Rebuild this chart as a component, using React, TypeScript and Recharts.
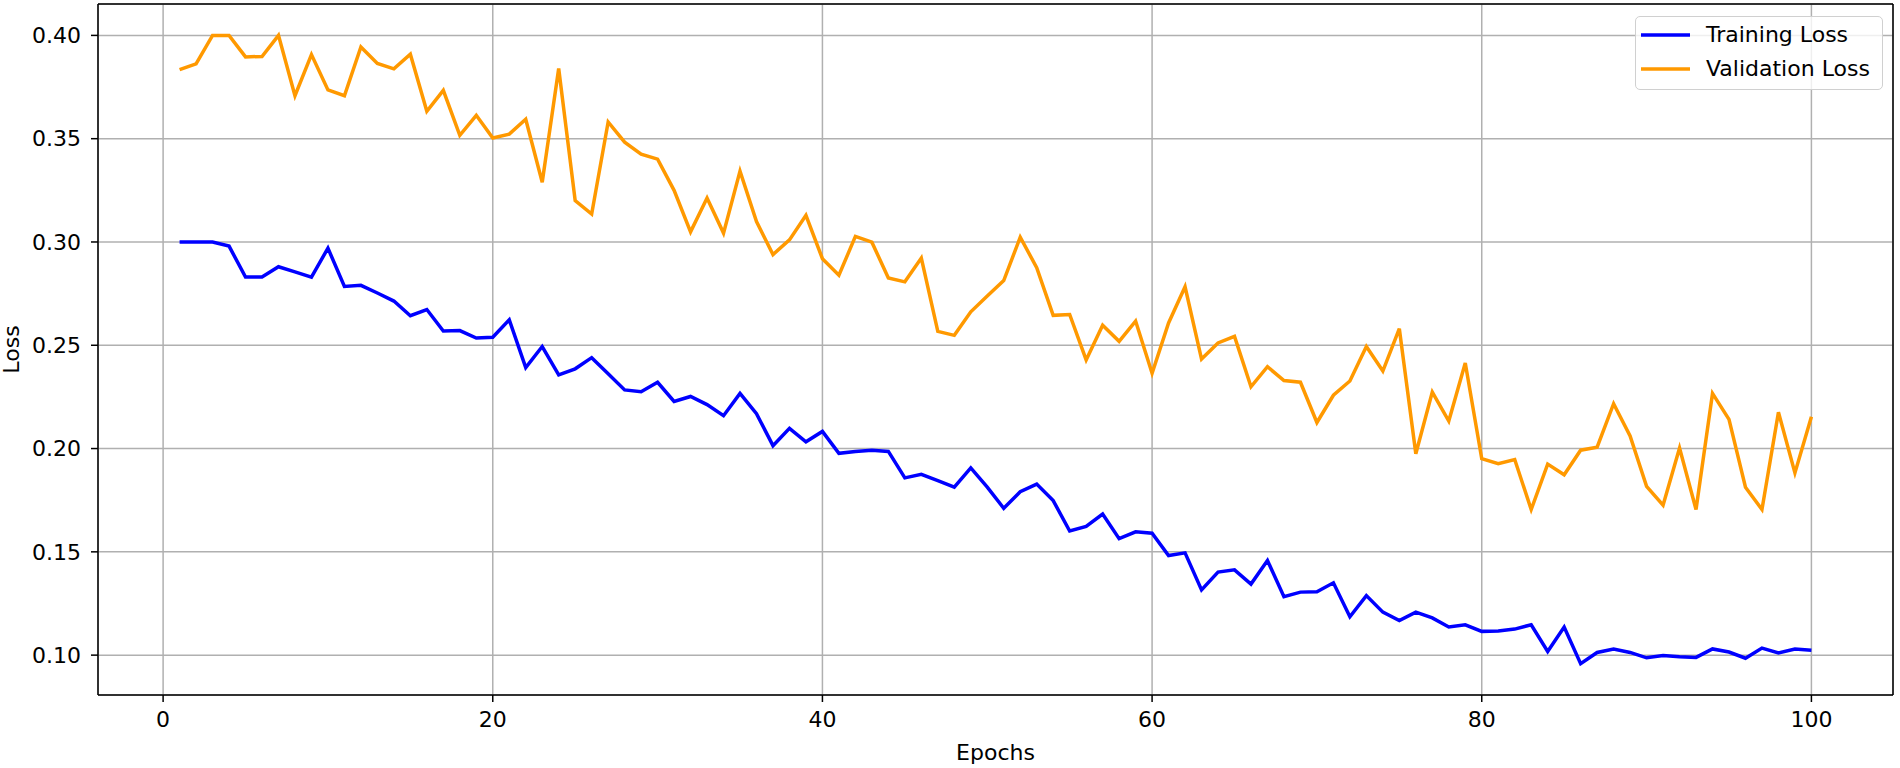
import React from "react";
import {
  LineChart,
  Line,
  XAxis,
  YAxis,
  CartesianGrid,
  Legend,
} from "recharts";

const trainingLoss = [
  0.3, 0.3, 0.3, 0.298, 0.283, 0.283, 0.288, 0.2855, 0.283, 0.297,
  0.2785, 0.279, 0.2753, 0.2714, 0.2643, 0.2673, 0.2569, 0.2571, 0.2535, 0.2539,
  0.2623, 0.2392, 0.2494, 0.2357, 0.2386, 0.244, 0.2362, 0.2284, 0.2275, 0.2321,
  0.2228, 0.2252, 0.2213, 0.2159, 0.2267, 0.2169, 0.2014, 0.2098, 0.2033, 0.2083,
  0.1977, 0.1986, 0.1992, 0.1986, 0.1858, 0.1875, 0.1845, 0.1813, 0.1906, 0.1813,
  0.1711, 0.1791, 0.1828, 0.1748, 0.1601, 0.1623, 0.1683, 0.1564, 0.1597, 0.159,
  0.1482, 0.1495, 0.1316, 0.1402, 0.1413, 0.1344, 0.1458, 0.1283, 0.1305, 0.1307,
  0.135, 0.1186, 0.1288, 0.1208, 0.1167, 0.1208, 0.118, 0.1136, 0.1147, 0.1115,
  0.1117, 0.1126, 0.1147, 0.1018, 0.1136, 0.0959, 0.1013, 0.103, 0.1013, 0.0987,
  0.0998, 0.0992, 0.0989, 0.103, 0.1015, 0.0985, 0.1034, 0.1011, 0.103, 0.1024,
];

const validationLoss = [
  0.3834, 0.3862, 0.4, 0.4, 0.3896, 0.3898, 0.4, 0.3708, 0.3907, 0.3736,
  0.3708, 0.3944, 0.3864, 0.3838, 0.3909, 0.3633, 0.3734, 0.3516, 0.3613, 0.3503,
  0.3522, 0.3594, 0.3289, 0.384, 0.32, 0.3135, 0.3581, 0.3483, 0.3425, 0.3401,
  0.325, 0.3049, 0.3213, 0.3043, 0.3343, 0.3099, 0.2939, 0.301, 0.3129, 0.2919,
  0.2839, 0.3027, 0.2999, 0.2826, 0.2807, 0.2922, 0.2567, 0.2548, 0.2662, 0.2738,
  0.2813, 0.3023, 0.2876, 0.2645, 0.2649, 0.2429, 0.2597, 0.2519, 0.2617, 0.2364,
  0.2608, 0.2783, 0.2433, 0.2511, 0.2543, 0.2299, 0.2396, 0.2329, 0.2321, 0.2126,
  0.2258, 0.2327, 0.2494, 0.2375, 0.258, 0.1975, 0.2273, 0.2133, 0.2414, 0.1951,
  0.1927, 0.1947, 0.1705, 0.1925, 0.1873, 0.1992, 0.2007, 0.2217, 0.2061, 0.1817,
  0.1726, 0.2003, 0.1705, 0.2267, 0.2141, 0.1813, 0.1705, 0.2176, 0.1882, 0.2154,
];

const xTicks = [0, 20, 40, 60, 80, 100];
const yTicks = [0.1, 0.15, 0.2, 0.25, 0.3, 0.35, 0.4];

const xDomain = [-3.95, 104.95];
const yDomain = [0.0807, 0.4152];

const FONT = "'DejaVu Sans', sans-serif";
const FONT_SIZE = 22;

const data = trainingLoss.map((t, i) => ({
  epoch: i + 1,
  train: t,
  val: validationLoss[i],
}));

const renderLegend = (props: any) => {
  const { payload } = props;
  return (
    <div
      style={{
        boxSizing: "border-box",
        width: 248,
        height: 74,
        background: "rgba(255,255,255,0.8)",
        border: "1px solid #d0d0d0",
        borderRadius: 5,
        padding: "1px 0 0 5px",
        fontFamily: FONT,
        fontSize: FONT_SIZE,
        color: "#000",
      }}
    >
      {(payload || []).map((entry: any) => (
        <div
          key={entry.value}
          style={{ display: "flex", alignItems: "center", height: 34 }}
        >
          <svg width={49} height={6}>
            <line x1={0} y1={3} x2={49} y2={3} stroke={entry.color} strokeWidth={3.5} />
          </svg>
          <span style={{ marginLeft: 16, lineHeight: "34px", whiteSpace: "nowrap" }}>
            {entry.value}
          </span>
        </div>
      ))}
    </div>
  );
};

const renderYLabel = (props: any) => {
  const vb = props.viewBox || { x: 0, y: 4, width: 98, height: 691 };
  const cx = vb.x + 11;
  const cy = vb.y + vb.height / 2;
  return (
    <text
      x={cx}
      y={cy}
      transform={`rotate(-90 ${cx} ${cy})`}
      textAnchor="middle"
      dominantBaseline="central"
      fill="#000"
      fontSize={FONT_SIZE}
      fontFamily={FONT}
    >
      Loss
    </text>
  );
};

const tickStyle = { fill: "#000", fontSize: FONT_SIZE, fontFamily: FONT };

export default function App() {
  return (
    <div style={{ position: "absolute", left: 0, top: 0, background: "#fff" }}>
      <LineChart
        width={1900}
        height={768}
        data={data}
        margin={{ top: 3, right: 6, left: 0, bottom: 3 }}
      >
        <CartesianGrid stroke="#b0b0b0" strokeWidth={1.5} />
        <XAxis
          dataKey="epoch"
          type="number"
          domain={xDomain}
          allowDataOverflow
          ticks={xTicks}
          height={70}
          tick={tickStyle}
          tickSize={7}
          tickMargin={9}
          axisLine={{ stroke: "#000", strokeWidth: 1.5 }}
          tickLine={{ stroke: "#000", strokeWidth: 1.5 }}
          label={{
            value: "Epochs",
            position: "insideBottom",
            offset: 5,
            fill: "#000",
            fontSize: FONT_SIZE,
            fontFamily: FONT,
          }}
        />
        <XAxis
          xAxisId="top"
          orientation="top"
          dataKey="epoch"
          type="number"
          domain={xDomain}
          allowDataOverflow
          height={1}
          tick={false}
          tickLine={false}
          axisLine={{ stroke: "#000", strokeWidth: 1.5 }}
        />
        <YAxis
          type="number"
          domain={yDomain}
          allowDataOverflow
          ticks={yTicks}
          width={98}
          tick={tickStyle}
          tickSize={7}
          tickMargin={10}
          tickFormatter={(v: number) => v.toFixed(2)}
          axisLine={{ stroke: "#000", strokeWidth: 1.5 }}
          tickLine={{ stroke: "#000", strokeWidth: 1.5 }}
          label={renderYLabel}
        />
        <YAxis
          yAxisId="right"
          orientation="right"
          type="number"
          domain={yDomain}
          allowDataOverflow
          width={1}
          tick={false}
          tickLine={false}
          axisLine={{ stroke: "#000", strokeWidth: 1.5 }}
        />
        <Legend
          layout="horizontal"
          verticalAlign="middle"
          align="center"
          content={renderLegend}
          wrapperStyle={{ left: 1635, top: 16, right: "auto", bottom: "auto", width: "auto" }}
        />
        <Line
          type="linear"
          dataKey="train"
          name="Training Loss"
          stroke="#0000ff"
          strokeWidth={3.5}
          dot={false}
          isAnimationActive={false}
        />
        <Line
          type="linear"
          dataKey="val"
          name="Validation Loss"
          stroke="#ff9900"
          strokeWidth={3.5}
          dot={false}
          isAnimationActive={false}
        />
      </LineChart>
    </div>
  );
}
